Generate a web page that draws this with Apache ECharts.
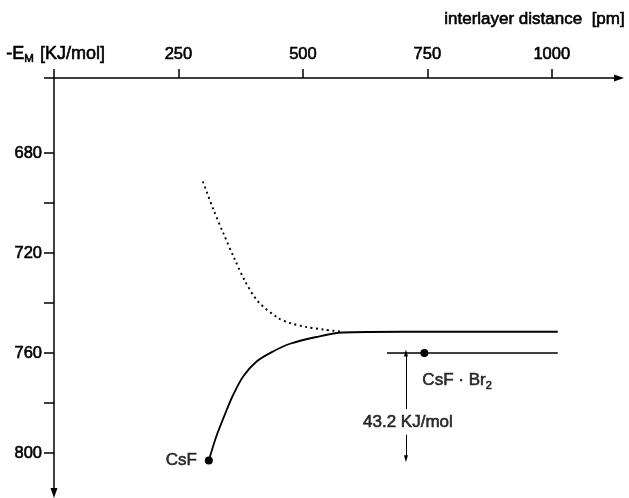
<!DOCTYPE html>
<html>
<head>
<meta charset="utf-8">
<script src="https://cdn.jsdelivr.net/npm/echarts@6/dist/echarts.min.js"></script>
<style>html,body{margin:0;padding:0;background:#fff}#c{width:629px;height:498px}</style>
</head>
<body>
<div id="c"></div>
<script>
// ---- data ----
const xTickValues = [0, 250, 500, 750, 1000];
const xLabelValues = [250, 500, 750, 1000];
const yTickValues = [650, 680, 700, 720, 740, 760, 780, 800];
const yLabelValues = [680, 720, 760, 800];

// solid curve (CsF) – interlayer distance [pm] vs -E_M [kJ/mol]
const csfX = [311, 326, 343, 360, 380, 407, 440, 474, 527, 580, 700, 850, 1012];
const csfY = [803, 793.4, 784.7, 776.7, 769.4, 763.4, 759.4, 756.3, 753.6, 751.8, 751.5, 751.5, 751.5];

// dotted curve
const dotX = [299, 320, 340, 363, 383, 410, 450, 474, 507, 541, 578];
const dotY = [691.4, 702.5, 712, 722.5, 731, 739.4, 746, 748, 749.6, 750.6, 751.5];

// CsF·Br2 level line
const br2X = [669, 1012];
const br2Y = [760, 760];

// marked points
const pointNames = ['CsF', 'CsF · Br2'];
const pointX = [311, 744];
const pointY = [803, 760];

// energy difference arrow
const diffValue = 43.2;
const arrowX = 707;
const arrowTop = 760;
const arrowBottom = 802.3;
const arrowGapTop = 782.4;
const arrowGapBottom = 792.7;

const zip = (xs, ys) => xs.map((x, i) => [x, ys[i]]);
const FONT = '"Liberation Sans", Arial, sans-serif';
const INK = '#000';
const THICK = {textBorderColor: INK, textBorderWidth: 0.6};

const chart = echarts.init(document.getElementById('c'), null, {renderer: 'canvas'});
chart.setOption({
  animation: false,
  backgroundColor: '#fff',
  grid: {left: 54, top: 78, right: 10, bottom: 5, outerBoundsMode: 'none'},
  xAxis: {
    type: 'value', position: 'top', min: 0, max: 1135,
    axisLine: {show: true, onZero: false, lineStyle: {color: INK, width: 1.5},
      symbol: ['none', 'triangle'], symbolSize: [7, 10]},
    axisTick: {show: true, length: 9, customValues: xTickValues, lineStyle: {color: INK, width: 1.5}},
    axisLabel: Object.assign({customValues: xLabelValues, margin: 15, color: INK, fontFamily: FONT, fontSize: 16.5,
      formatter: v => String(v)}, THICK),
    splitLine: {show: false}
  },
  yAxis: {
    type: 'value', inverse: true, min: 650, max: 816,
    axisLine: {show: true, onZero: false, lineStyle: {color: INK, width: 1.5},
      symbol: ['triangle', 'none'], symbolSize: [7, 10]},
    axisTick: {show: true, length: 10, customValues: yTickValues, lineStyle: {color: INK, width: 1.5}},
    axisLabel: Object.assign({customValues: yLabelValues, margin: 12, color: INK, fontFamily: FONT, fontSize: 16.5,
      formatter: v => String(v)}, THICK),
    splitLine: {show: false}
  },
  graphic: [
    {type: 'text', right: 4, top: 11, style: {text: 'interlayer distance  [pm]', fill: INK, stroke: INK, lineWidth: 0.6, font: '17px ' + FONT}},
    {type: 'text', left: 6, top: 45, style: {
      text: '-E{s|M} [KJ/mol]', fill: INK, stroke: INK, lineWidth: 0.6, font: '18px ' + FONT,
      rich: {s: {fontSize: 11.5, verticalAlign: 'bottom', padding: [9, 1, 0, 0], fontFamily: FONT, fill: INK, stroke: INK, lineWidth: 0.6}}
    }}
  ],
  series: [
    {
      type: 'line', name: 'CsF curve', data: zip(csfX, csfY), showSymbol: false,
      smooth: 0.3,
      lineStyle: {color: INK, width: 1.8}
    },
    {
      type: 'line', name: 'dotted', data: zip(dotX, dotY), showSymbol: false,
      smooth: 0.3,
      lineStyle: {color: INK, width: 1.9, type: [2, 3.5]}
    },
    {
      type: 'line', name: 'CsF·Br2 level', data: zip(br2X, br2Y), showSymbol: false,
      lineStyle: {color: INK, width: 1.5},
      markLine: {
        silent: true, animation: false,
        symbol: ['none', 'triangle'], symbolSize: [4, 7],
        lineStyle: {color: INK, width: 1, type: 'solid'},
        label: {show: false},
        data: [
          [{coord: [arrowX, arrowGapTop]}, {coord: [arrowX, arrowTop]}],
          [{coord: [arrowX, arrowGapBottom]}, {coord: [arrowX, arrowBottom]}]
        ]
      }
    },
    {
      type: 'scatter', name: 'points', data: zip(pointX, pointY).map((p, i) => ({value: p, name: pointNames[i]})),
      symbolSize: 8, itemStyle: {color: INK, opacity: 1},
      label: {show: false}
    },
    {
      type: 'scatter', name: 'labels', symbolSize: 0, silent: true,
      data: [
        {value: [pointX[0], pointY[0]], label: {formatter: 'CsF', position: 'left', distance: 12}},
        {value: [pointX[1], pointY[1]], label: {formatter: 'CsF · Br{s|2}', position: [-2, 17], align: 'left', verticalAlign: 'top'}},
        {value: [arrowX, (arrowGapTop + arrowGapBottom) / 2], label: {formatter: diffValue.toFixed(1) + ' KJ/mol', position: 'inside', align: 'center', verticalAlign: 'middle', offset: [2, 0]}}
      ],
      label: Object.assign({show: true, color: INK, fontFamily: FONT, fontSize: 17,
        rich: {s: Object.assign({fontSize: 11, verticalAlign: 'bottom', padding: [10, 0, 0, 0], fontFamily: FONT, color: INK}, THICK)}}, THICK)
    }
  ]
});
</script>
</body>
</html>
